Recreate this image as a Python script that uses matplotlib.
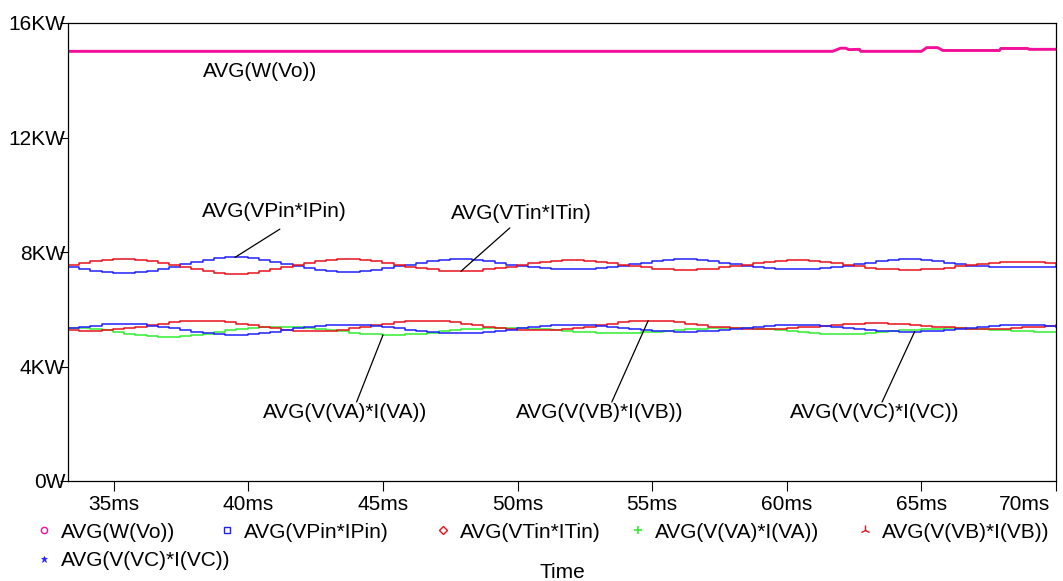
import numpy as np
import matplotlib
matplotlib.use("Agg")
import matplotlib.pyplot as plt
import matplotlib.transforms as mtransforms
from matplotlib.lines import Line2D

plt.rcParams['font.family'] = ['Liberation Sans', 'DejaVu Sans']

# ---- data (power in kW, time in ms) ----
t_start, t_end = 33.3, 70.0
time_ms = np.linspace(t_start, t_end, 89)

p_vpin = [7.49, 7.42, 7.35, 7.31, 7.28, 7.28, 7.31, 7.35, 7.42, 7.49,
          7.57, 7.66, 7.73, 7.78, 7.81, 7.81, 7.78, 7.73, 7.66, 7.57,
          7.50, 7.43, 7.37, 7.33, 7.31, 7.31, 7.33, 7.37, 7.43, 7.50,
          7.56, 7.63, 7.69, 7.73, 7.75, 7.75, 7.73, 7.69, 7.63, 7.56,
          7.51, 7.47, 7.44, 7.41, 7.40, 7.40, 7.41, 7.44, 7.47, 7.51,
          7.57, 7.63, 7.69, 7.73, 7.75, 7.75, 7.73, 7.69, 7.63, 7.57,
          7.51, 7.47, 7.44, 7.41, 7.40, 7.40, 7.41, 7.44, 7.47, 7.51,
          7.57, 7.63, 7.69, 7.73, 7.75, 7.75, 7.73, 7.69, 7.63, 7.57,
          7.52, 7.50, 7.49, 7.48, 7.47, 7.47, 7.48, 7.49, 7.50]

p_vtin = [7.56, 7.63, 7.69, 7.73, 7.76, 7.76, 7.73, 7.69, 7.63, 7.56,
          7.48, 7.39, 7.32, 7.26, 7.23, 7.23, 7.26, 7.32, 7.39, 7.48,
          7.56, 7.63, 7.69, 7.73, 7.75, 7.75, 7.73, 7.69, 7.63, 7.56,
          7.49, 7.43, 7.39, 7.35, 7.33, 7.33, 7.35, 7.39, 7.43, 7.49,
          7.55, 7.61, 7.66, 7.70, 7.72, 7.72, 7.70, 7.66, 7.61, 7.55,
          7.50, 7.46, 7.42, 7.40, 7.38, 7.38, 7.40, 7.42, 7.46, 7.50,
          7.55, 7.61, 7.66, 7.70, 7.72, 7.72, 7.70, 7.66, 7.61, 7.55,
          7.50, 7.45, 7.41, 7.39, 7.37, 7.37, 7.39, 7.41, 7.45, 7.50,
          7.54, 7.58, 7.61, 7.64, 7.65, 7.65, 7.64, 7.61, 7.58]

p_va = [5.36, 5.33, 5.30, 5.27,
        5.22, 5.15, 5.10, 5.06, 5.04, 5.04, 5.06, 5.10, 5.15, 5.22,
        5.27, 5.31, 5.35, 5.37, 5.39, 5.39, 5.37, 5.35, 5.31, 5.27,
        5.23, 5.18, 5.14, 5.12, 5.10, 5.10, 5.12, 5.14, 5.18, 5.23,
        5.27, 5.30, 5.32, 5.34, 5.35, 5.35, 5.34, 5.32, 5.30, 5.27,
        5.24, 5.21, 5.19, 5.17, 5.16, 5.16, 5.17, 5.19, 5.21, 5.24,
        5.27, 5.30, 5.32, 5.34, 5.35, 5.35, 5.34, 5.32, 5.30, 5.27,
        5.23, 5.19, 5.16, 5.14, 5.13, 5.13, 5.14, 5.16, 5.19, 5.23,
        5.26, 5.29, 5.31, 5.32, 5.33, 5.33, 5.32, 5.31, 5.29, 5.26,
        5.24, 5.23, 5.21, 5.20, 5.20]

p_vb = [5.27, 5.25, 5.25, 5.27, 5.30, 5.34, 5.39,
        5.44, 5.50, 5.54, 5.58, 5.60, 5.60, 5.58, 5.54, 5.50, 5.44,
        5.38, 5.33, 5.28, 5.25, 5.23, 5.23, 5.25, 5.28, 5.33, 5.38,
        5.44, 5.50, 5.54, 5.58, 5.60, 5.60, 5.58, 5.54, 5.50, 5.44,
        5.39, 5.34, 5.30, 5.27, 5.26, 5.26, 5.27, 5.30, 5.34, 5.39,
        5.44, 5.50, 5.54, 5.58, 5.60, 5.60, 5.58, 5.54, 5.50, 5.44,
        5.39, 5.37, 5.34, 5.32, 5.31, 5.31, 5.32, 5.34, 5.37, 5.39,
        5.43, 5.46, 5.48, 5.50, 5.51, 5.51, 5.50, 5.48, 5.46, 5.43,
        5.39, 5.37, 5.34, 5.32, 5.31, 5.31, 5.32, 5.34, 5.37, 5.39,
        5.42, 5.45]

p_vc = [5.34, 5.39, 5.43, 5.47, 5.48, 5.48, 5.47, 5.43, 5.39, 5.34,
        5.28, 5.21, 5.16, 5.12, 5.10, 5.10, 5.12, 5.16, 5.21, 5.28,
        5.33, 5.37, 5.41, 5.44, 5.45, 5.45, 5.44, 5.41, 5.37, 5.33,
        5.29, 5.24, 5.20, 5.18, 5.16, 5.16, 5.18, 5.20, 5.24, 5.29,
        5.33, 5.37, 5.41, 5.44, 5.45, 5.45, 5.44, 5.41, 5.37, 5.33,
        5.30, 5.27, 5.25, 5.23, 5.22, 5.22, 5.23, 5.25, 5.27, 5.30,
        5.33, 5.38, 5.42, 5.44, 5.46, 5.46, 5.44, 5.42, 5.38, 5.33,
        5.30, 5.27, 5.25, 5.23, 5.22, 5.22, 5.23, 5.25, 5.27, 5.30,
        5.33, 5.37, 5.41, 5.44, 5.45, 5.45, 5.44, 5.41, 5.37]

vo_t = [33.3, 61.7, 62.0, 62.2, 62.3, 62.7, 62.75, 65.0, 65.2, 65.6,
        65.8, 67.9, 67.95, 68.95, 69.0, 70.0]
vo_p = [15.01, 15.01, 15.12, 15.12, 15.07, 15.08, 15.01, 15.01, 15.14, 15.14,
        15.04, 15.04, 15.11, 15.11, 15.08, 15.08]

x_ticks = [35, 40, 45, 50, 55, 60, 65, 70]
x_tick_labels = ["35ms", "40ms", "45ms", "50ms", "55ms", "60ms", "65ms", "70ms"]
y_ticks = [0, 4, 8, 12, 16]
y_tick_labels = ["0W", "4KW", "8KW", "12KW", "16KW"]

labels = ["AVG(W(Vo))", "AVG(VPin*IPin)", "AVG(VTin*ITin)",
          "AVG(V(VA)*I(VA))", "AVG(V(VB)*I(VB))", "AVG(V(VC)*I(VC))"]

# ---- styling ----
PINK = "#f2109a"
BLUE = "#2020ff"
RED = "#e8101a"
GREEN = "#30ee30"
FS = 15.0
W, H = 1063, 581

fig = plt.figure(figsize=(W / 100, H / 100), dpi=100)
ax = fig.add_axes([68 / W, 1 - 481 / H, (1056 - 68) / W, (481 - 23) / H])

ax.plot(vo_t, vo_p, color=PINK, lw=2.1, solid_capstyle="butt")
ax.step(time_ms, p_vpin, where="post", color=BLUE, lw=1.1)
ax.step(time_ms, p_vtin, where="post", color=RED, lw=1.1)
ax.step(time_ms, p_va, where="post", color=GREEN, lw=1.1)
ax.step(time_ms, p_vb, where="post", color=RED, lw=1.1)
ax.step(time_ms, p_vc, where="post", color=BLUE, lw=1.1)

ax.set_xlim(t_start, t_end)
ax.set_ylim(0, 16)
ax.set_xticks(x_ticks)
ax.set_xticklabels(x_tick_labels)
ax.set_yticks(y_ticks)
ax.set_yticklabels(y_tick_labels)
ax.tick_params(axis="x", direction="out", length=7, width=0.8, pad=3,
               labelsize=FS, colors="black")
ax.tick_params(axis="y", direction="out", length=6, width=0.8, pad=-4,
               labelsize=FS, colors="black")
for sp in ax.spines.values():
    sp.set_linewidth(0.9)
    sp.set_color("black")

# keep the last time label inside the figure
last = ax.xaxis.get_major_ticks()[-1].label1
last.set_horizontalalignment("right")
last.set_transform(last.get_transform() +
                   mtransforms.ScaledTranslation(-0.06, 0, fig.dpi_scale_trans))

ax.set_xlabel("Time", fontsize=FS, va="center")
ax.xaxis.set_label_coords(0.5, -(572 - 481) / (481 - 23))

# ---- trace labels with leader lines ----
ax.text(38.3, 14.29, labels[0], fontsize=FS, ha="left", va="center")

trace_notes = [
    (labels[1], (40.95, 9.43), (41.17, 8.80), (39.5, 7.81)),
    (labels[2], (50.15, 9.36), (49.71, 8.84), (47.9, 7.33)),
    (labels[3], (43.58, 2.41), (44.02, 2.76), (45.0, 5.10)),
    (labels[4], (53.06, 2.41), (53.50, 2.76), (54.85, 5.60)),
    (labels[5], (63.28, 2.41), (63.54, 2.76), (64.75, 5.22)),
]
for text, tpos, start, target in trace_notes:
    ax.text(tpos[0], tpos[1], text, fontsize=FS, ha="center", va="center")
    ax.annotate("", xy=target, xytext=start,
                arrowprops=dict(arrowstyle="-", color="black", lw=0.9,
                                shrinkA=0, shrinkB=0))

# ---- legend entries below the plot ----
handles = [
    Line2D([], [], ls="none", marker="o", ms=4.5, mfc="none", mec=PINK, mew=1.0),
    Line2D([], [], ls="none", marker="s", ms=5, mfc="none", mec=BLUE, mew=1.0),
    Line2D([], [], ls="none", marker="D", ms=4, mfc="none", mec=RED, mew=1.0),
    Line2D([], [], ls="none", marker="+", ms=6, mec=GREEN, mew=1.2),
    Line2D([], [], ls="none", marker="2", ms=7, mec=RED, mew=1.0),
    Line2D([], [], ls="none", marker="*", ms=5, mfc=BLUE, mec=BLUE, mew=0.5),
]
LEG_FS = 15.0
hl = 0.8
half_handle = hl * LEG_FS * 100 / 72 / 2
# (marker x, row centre y) in pixels
legend_slots = [(44, 532), (227, 532), (443, 532), (638, 532), (865, 532),
                (44, 561)]
for h, lab, (mx, my) in zip(handles, labels, legend_slots):
    fig.legend([h], [lab], loc="center left", frameon=False, fontsize=LEG_FS,
               handlelength=hl, handletextpad=0.42, borderpad=0,
               borderaxespad=0,
               bbox_to_anchor=((mx - half_handle) / W, 1 - my / H))

fig.savefig("out.png", dpi=100)
